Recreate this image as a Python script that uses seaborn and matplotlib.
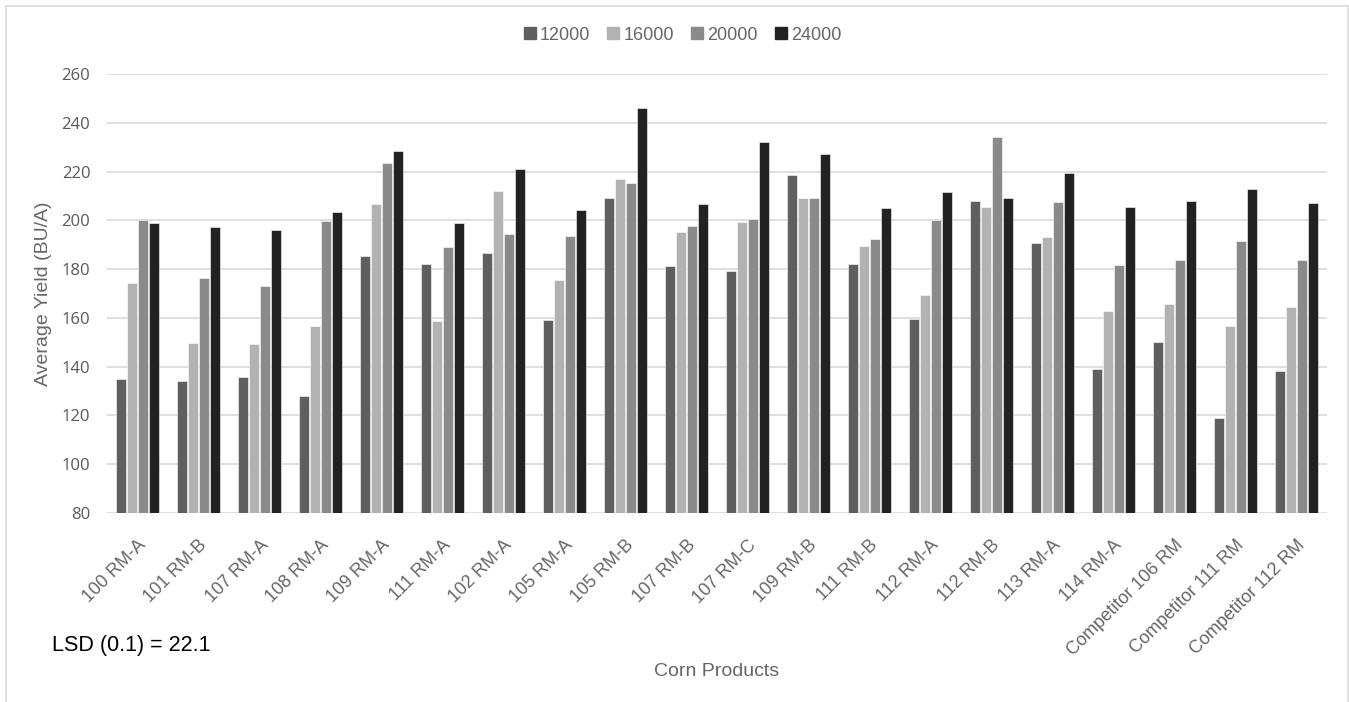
import matplotlib
matplotlib.use("Agg")
import matplotlib.pyplot as plt
from matplotlib.lines import Line2D
import seaborn as sns
import pandas as pd

# Corn products and seeding rates (seeds/acre)
products = [
    "100 RM-A", "101 RM-B", "107 RM-A", "108 RM-A", "109 RM-A", "111 RM-A",
    "102 RM-A", "105 RM-A", "105 RM-B", "107 RM-B", "107 RM-C", "109 RM-B",
    "111 RM-B", "112 RM-A", "112 RM-B", "113 RM-A", "114 RM-A",
    "Competitor 106 RM", "Competitor 111 RM", "Competitor 112 RM",
]
rates = ["12000", "16000", "20000", "24000"]

# Average yield (BU/A) per seeding rate
yield_12000 = [134.9, 134.3, 135.6, 127.8, 185.4, 182.2, 186.8, 159.3, 209.0, 181.3,
               179.2, 218.6, 182.2, 159.4, 208.1, 190.8, 139.0, 150.0, 118.9, 138.3]
yield_16000 = [174.4, 149.6, 149.3, 156.8, 206.7, 158.7, 212.1, 175.4, 217.1, 195.1,
               199.2, 209.1, 189.6, 169.4, 205.3, 193.3, 162.7, 165.5, 156.8, 164.5]
yield_20000 = [200.3, 176.5, 173.1, 199.6, 223.5, 189.2, 194.3, 193.6, 215.3, 197.8,
               200.5, 209.1, 192.5, 200.1, 234.3, 207.5, 181.7, 183.6, 191.5, 183.7]
yield_24000 = [198.8, 197.3, 195.9, 203.3, 228.5, 198.9, 220.9, 204.4, 245.9, 206.5,
               232.1, 227.1, 204.9, 211.5, 209.0, 219.5, 205.3, 207.9, 213.0, 207.0]

lsd_text = "LSD (0.1) = 22.1"
y_ticks = [80, 100, 120, 140, 160, 180, 200, 220, 240, 260]

series = {"12000": yield_12000, "16000": yield_16000,
          "20000": yield_20000, "24000": yield_24000}
df = pd.DataFrame(
    [(p, r, v) for r in rates for p, v in zip(products, series[r])],
    columns=["product", "rate", "yield"],
)

sns.set_theme(style="white")
plt.rcParams["font.family"] = ["Liberation Sans", "DejaVu Sans"]

palette = {"12000": "#5f5f5f", "16000": "#b2b2b2",
           "20000": "#8a8a8a", "24000": "#222222"}
grid_col = "#d9d9d9"
text_col = "#595959"
label_col = "#666666"

fig = plt.figure(figsize=(13.49, 7.02), dpi=100)
ax = fig.add_axes([107 / 1349, 1 - 513 / 702, 1220 / 1349, 439 / 702])

sns.barplot(data=df, x="product", y="yield", hue="rate", hue_order=rates,
            order=products, palette=palette, width=0.72, gap=0.15,
            edgecolor="white", linewidth=0.4, ax=ax, legend=False, zorder=3)

ax.set_ylim(80, 260)
ax.set_xlim(-0.5, len(products) - 0.5)
ax.set_yticks(y_ticks)
ax.set_yticklabels([str(t) for t in y_ticks], fontsize=12, color=text_col,
                   family=["Open Sans", "DejaVu Sans"])
ax.yaxis.grid(True, color=grid_col, linewidth=1.2, zorder=0)
ax.set_axisbelow(True)
for s in ax.spines.values():
    s.set_visible(False)
ax.tick_params(axis="both", length=0)
ax.tick_params(axis="y", pad=12)
ax.tick_params(axis="x", pad=17)
ax.set_xticks(range(len(products)))
ax.set_xticklabels(products, rotation=45, ha="right", rotation_mode="anchor",
                   fontsize=13, color=label_col)

ax.set_xlabel("")
ax.set_ylabel("Average Yield (BU/A)", fontsize=14, color=label_col)
ax.yaxis.set_label_coords(-55 / 1220, 0.5)

# Legend across the top
handles = [Line2D([0], [0], marker="s", linestyle="", markersize=9,
                  markerfacecolor=palette[r], markeredgecolor=palette[r])
           for r in rates]
fig.legend(handles, rates, loc="center", bbox_to_anchor=(681 / 1349, 1 - 35 / 702),
           ncol=4, frameon=False, fontsize=13, handletextpad=0.05,
           columnspacing=0.8, labelcolor=label_col, handlelength=1.0)

fig.text(717 / 1349, 1 - 671 / 702, "Corn Products", ha="center", va="center",
         fontsize=14, color=label_col)
fig.text(52 / 1349, 1 - 645 / 702, lsd_text, ha="left", va="center",
         fontsize=15.5, color="black")

# Chart-area frame
for xs, ys in [([6, 6], [0, 696]), ([6, 1347.5], [696, 696]),
               ([1347.5, 1347.5], [0, 696])]:
    fig.add_artist(Line2D([x / 1349 for x in xs], [y / 702 for y in ys],
                          color=grid_col, linewidth=1.2,
                          transform=fig.transFigure))

fig.savefig("out.png", dpi=100, facecolor="white")
